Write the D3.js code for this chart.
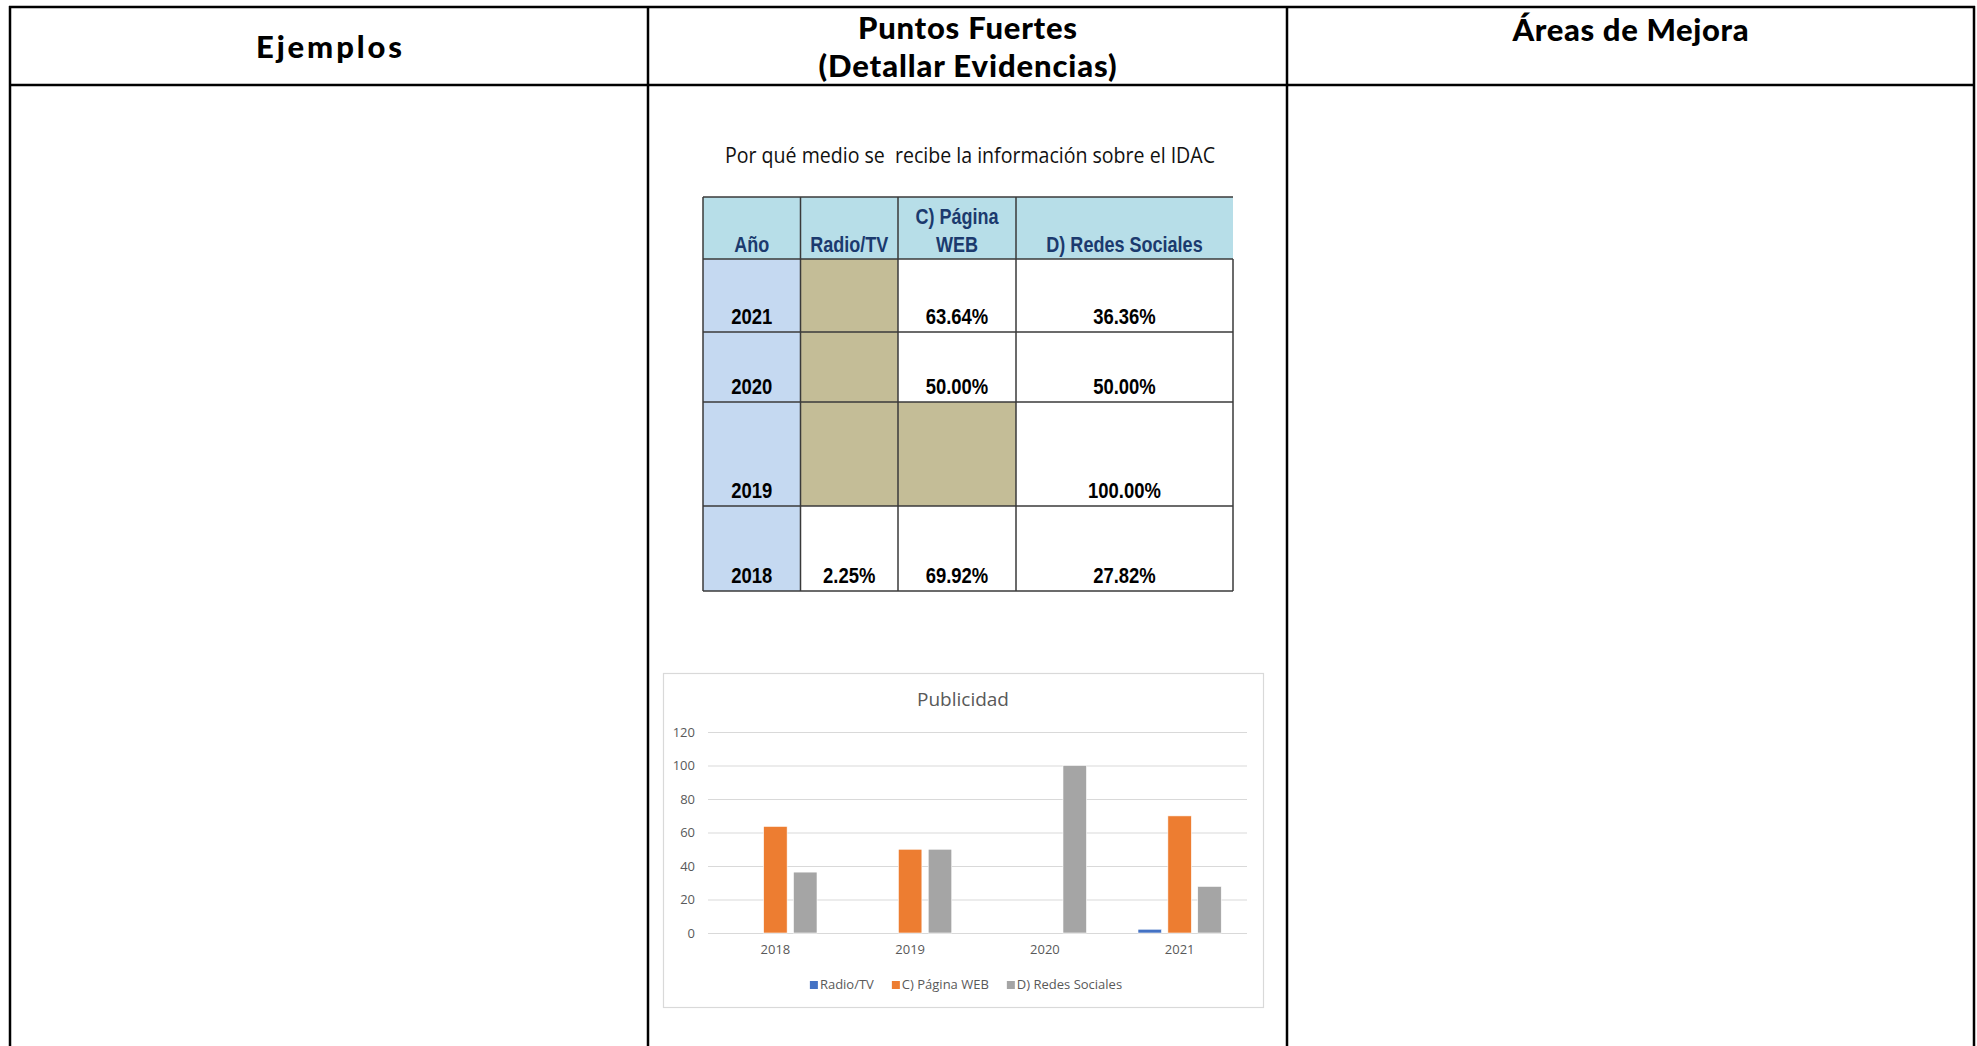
<!DOCTYPE html>
<meta charset="utf-8">
<script src="https://d3js.org/d3.v7.min.js"></script>
<style>
  body { margin: 0; background: #fff; }
  svg { display: block; }
</style>
<div id="my_dataviz"></div>
<script>

// frame headers
var frameHeaders = [["Ejemplos"], ["Puntos Fuertes", "(Detallar Evidencias)"], ["Áreas de Mejora"]];

// table data
var tableTitle = "Por qué medio se  recibe la información sobre el IDAC";
var tableColumns = [["Año"], ["Radio/TV"], ["C) Página", "WEB"], ["D) Redes Sociales"]];
var tableYears = ["2021", "2020", "2019", "2018"];
var tableRadio = [null, null, null, 2.25];
var tableWeb = [63.64, 50.00, null, 69.92];
var tableRedes = [36.36, 50.00, 100.00, 27.82];

// chart data
var chartTitle = "Publicidad";
var years = ["2018", "2019", "2020", "2021"];
var seriesNames = ["Radio/TV", "C) Página WEB", "D) Redes Sociales"];
var radio = [null, null, null, 2.25];
var web = [63.64, 50, null, 69.92];
var redes = [36.36, 50, 100, 27.82];
var yTicks = [0, 20, 40, 60, 80, 100, 120];
var colors = ["#4472C4", "#ED7D31", "#A5A5A5"];

var W = 1977, H = 1046;
var svg = d3.select("#my_dataviz").append("svg")
    .attr("width", W).attr("height", H);
svg.append("rect").attr("width", W).attr("height", H).attr("fill", "#fff");

// ---- outer frame ----
var colEdges = [10, 648, 1287, 1974];
var frame = svg.append("g").attr("stroke", "#000").attr("stroke-width", 2.5);
frame.append("line").attr("x1", colEdges[0] - 1).attr("x2", colEdges[3] + 1).attr("y1", 7).attr("y2", 7);
frame.append("line").attr("x1", colEdges[0] - 1).attr("x2", colEdges[3] + 1).attr("y1", 85).attr("y2", 85);
colEdges.forEach(function(x) {
  frame.append("line").attr("x1", x).attr("x2", x).attr("y1", 6).attr("y2", H + 5);
});

var headBaselines = [[58], [39, 77], [41]];
var headWidths = [[146], [219, 298], [236]];
frameHeaders.forEach(function(lines, i) {
  var cx = (colEdges[i] + colEdges[i + 1]) / 2;
  lines.forEach(function(t, j) {
    svg.append("text")
      .attr("x", cx).attr("y", headBaselines[i][j])
      .attr("text-anchor", "middle")
      .attr("textLength", headWidths[i][j])
      .style("font-family", "Lato, 'Noto Sans', sans-serif")
      .style("font-weight", "900")
      .style("font-size", "31px")
      .style("fill", "#000")
      .text(t);
  });
});

// ---- table ----
var tx = [703, 800.5, 898, 1016, 1233];
var ty = [197, 259, 332, 402, 506, 591];

// condensed bold text (Arial Narrow look), squeezed horizontally
function narrowText(g, x, y, t, size, color) {
  g.append("g").attr("transform", "translate(" + x + "," + y + ") scale(0.82,1)")
    .append("text")
      .attr("text-anchor", "middle")
      .style("font-family", "'Liberation Sans', Arial, sans-serif")
      .style("font-weight", "700")
      .style("font-size", size + "px")
      .style("fill", color)
      .text(t);
}

svg.append("text")
  .attr("x", 970).attr("y", 163)
  .attr("text-anchor", "middle")
  .attr("textLength", 490)
  .attr("lengthAdjust", "spacingAndGlyphs")
  .style("font-family", "'Open Sans', sans-serif")
  .style("font-size", "21.5px")
  .style("fill", "#111")
  .style("white-space", "pre")
  .text(tableTitle);

var tbl = svg.append("g");
// header cells
tableColumns.forEach(function(lines, c) {
  tbl.append("rect").attr("x", tx[c]).attr("y", ty[0])
    .attr("width", tx[c + 1] - tx[c]).attr("height", ty[1] - ty[0])
    .attr("fill", "#B7DEE8");
  lines.forEach(function(t, j) {
    narrowText(tbl, (tx[c] + tx[c + 1]) / 2, 252 - (lines.length - 1 - j) * 28, t, 22, "#1B3A6E");
  });
});

var fmt = function(v) { return v == null ? "" : d3.format(".2f")(v) + "%"; };
tableYears.forEach(function(yr, r) {
  var cells = [yr, tableRadio[r], tableWeb[r], tableRedes[r]];
  cells.forEach(function(v, c) {
    var fill = c === 0 ? "#C5D9F1" : (v == null ? "#C4BD97" : "#fff");
    tbl.append("rect").attr("x", tx[c]).attr("y", ty[r + 1])
      .attr("width", tx[c + 1] - tx[c]).attr("height", ty[r + 2] - ty[r + 1])
      .attr("fill", fill);
    narrowText(tbl, (tx[c] + tx[c + 1]) / 2, ty[r + 2] - 8, c === 0 ? v : fmt(v), 22.5, "#000");
  });
});

// table grid lines
var grid = tbl.append("g").attr("stroke", "#3a3a3a").attr("stroke-width", 1.5);
ty.forEach(function(y) {
  grid.append("line").attr("x1", tx[0]).attr("x2", tx[4]).attr("y1", y).attr("y2", y);
});
tx.forEach(function(x, i) {
  grid.append("line").attr("x1", x).attr("x2", x)
    .attr("y1", i === 4 ? ty[1] : ty[0]).attr("y2", ty[5]);
});

// ---- bar chart ----
var box = {x: 663, y: 673, w: 600, h: 334};
var plot = {left: 708, right: 1247, top: 732, bottom: 933};

var chart = svg.append("g");
chart.append("rect")
  .attr("x", box.x + 0.5).attr("y", box.y + 0.5)
  .attr("width", box.w).attr("height", box.h)
  .attr("fill", "#fff").attr("stroke", "#D9D9D9").attr("stroke-width", 1.2);

chart.append("text")
  .attr("x", box.x + box.w / 2).attr("y", 706)
  .attr("text-anchor", "middle")
  .style("font-family", "'Open Sans', sans-serif")
  .style("font-size", "19px")
  .style("fill", "#595959")
  .text(chartTitle);

var y = d3.scaleLinear().domain([0, 120]).range([plot.bottom, plot.top]);
var x = d3.scaleBand().domain(years).range([plot.left, plot.right]);
// excel-like gap width 219%, overlap -27%
var x1 = d3.scaleBand().domain(seriesNames).range([0, x.bandwidth()])
  .paddingInner(0.27 / 1.27).paddingOuter(0.862);

var yAxis = chart.append("g")
  .attr("transform", "translate(" + plot.left + ",0)")
  .call(d3.axisLeft(y).tickValues(yTicks).tickSize(-(plot.right - plot.left)).tickPadding(13));
yAxis.select(".domain").remove();
yAxis.selectAll("line").attr("stroke", "#D9D9D9").attr("stroke-width", 1.2);
yAxis.selectAll("text")
  .style("font-family", "'Open Sans', sans-serif")
  .style("font-size", "13px")
  .style("fill", "#595959");

var xAxis = chart.append("g")
  .attr("transform", "translate(0," + plot.bottom + ")")
  .call(d3.axisBottom(x).tickSize(0).tickPadding(12));
xAxis.select(".domain").remove();
xAxis.selectAll("text")
  .style("font-family", "'Open Sans', sans-serif")
  .style("font-size", "13px")
  .style("fill", "#595959");

var series = [radio, web, redes];
series.forEach(function(vals, s) {
  chart.append("g").selectAll("rect")
    .data(years.map(function(yr, i) { return {year: yr, value: vals[i]}; })
      .filter(function(d) { return d.value != null; }))
    .enter().append("rect")
      .attr("x", function(d) { return x(d.year) + x1(seriesNames[s]); })
      .attr("y", function(d) { return y(d.value); })
      .attr("width", x1.bandwidth())
      .attr("height", function(d) { return y(0) - y(d.value); })
      .attr("fill", colors[s])
      .attr("stroke", "#fff").attr("stroke-width", 0.6);
});

// legend
var legend = chart.append("g");
var lx = 0;
seriesNames.forEach(function(name, s) {
  var item = legend.append("g").attr("transform", "translate(" + lx + ",0)");
  item.append("rect").attr("x", 0).attr("y", -8).attr("width", 8).attr("height", 8)
    .attr("fill", colors[s]);
  var t = item.append("text").attr("x", 10).attr("y", 0)
    .style("font-family", "'Open Sans', sans-serif")
    .style("font-size", "13px")
    .style("fill", "#595959")
    .text(name);
  lx += 10 + t.node().getComputedTextLength() + 18;
});
lx -= 18;
legend.attr("transform", "translate(" + (box.x + box.w / 2 + 3 - lx / 2) + ",989)");

</script>
